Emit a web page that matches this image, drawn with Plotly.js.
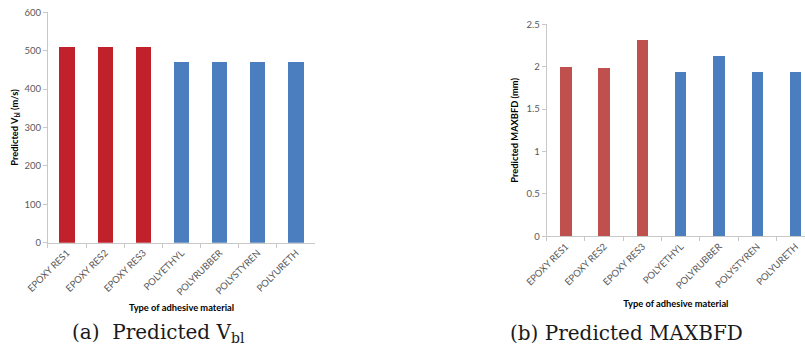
<!DOCTYPE html>
<html>
<head>
<meta charset="utf-8">
<script src="https://cdn.plot.ly/plotly-3.0.1.min.js"></script>
<style>html,body{margin:0;padding:0;background:#fff;}#chart{width:805px;height:355px;}</style>
</head>
<body>
<div id="chart"></div>
<script>
const categories = ["EPOXY RES1", "EPOXY RES2", "EPOXY RES3", "POLYETHYL", "POLYRUBBER", "POLYSTYREN", "POLYURETH"];
const vblValues = [510, 510, 510, 470, 470, 470, 470];
const maxbfdValues = [2.00, 1.99, 2.31, 1.94, 2.13, 1.94, 1.94];
const vblTicks = [0, 100, 200, 300, 400, 500, 600];
const maxbfdTicks = [0, 0.5, 1, 1.5, 2, 2.5];

const isEpoxy = c => c.indexOf("EPOXY") === 0;
const leftColors = categories.map(c => isEpoxy(c) ? "#C0212B" : "#4A7EBE");
const rightColors = categories.map(c => isEpoxy(c) ? "#C0504D" : "#4A7EBE");

const tickFont = {family: "Lato, 'Open Sans', sans-serif", size: 9.5, color: "#595959"};
const titleFont = {family: "Lato, 'Open Sans', sans-serif", size: 9.3, color: "#000", weight: "bold"};
const captionFont = {family: "'DejaVu Serif', 'Liberation Serif', serif", size: 20, color: "#1a1a1a"};
const axisLine = "#C8C8C8";

const traces = [
  {type: "bar", x: categories, y: vblValues, xaxis: "x", yaxis: "y", width: 0.4,
   marker: {color: leftColors}, hoverinfo: "x+y"},
  {type: "bar", x: categories, y: maxbfdValues, xaxis: "x2", yaxis: "y2", width: 0.3,
   marker: {color: rightColors}, hoverinfo: "x+y"}
];

const xCommon = {
  type: "category", showline: true, linecolor: axisLine, linewidth: 1,
  ticks: "outside", tickson: "boundaries", ticklen: 4, tickcolor: axisLine,
  tickangle: -45, tickfont: tickFont, showgrid: false, zeroline: false, automargin: false
};
const yCommon = {
  showline: true, linecolor: axisLine, linewidth: 1, ticks: "outside", ticklen: 4,
  tickcolor: axisLine, tickfont: tickFont, showgrid: false, zeroline: false, automargin: false
};

const layout = {
  width: 805, height: 355, margin: {l: 0, r: 0, t: 0, b: 0},
  paper_bgcolor: "#fff", plot_bgcolor: "#fff", showlegend: false, bargap: 0,
  xaxis: Object.assign({}, xCommon, {domain: [0.0596, 0.3913], anchor: "y", range: [-0.5, 6.5],
    title: {text: "Type of adhesive material", font: titleFont, standoff: 8}}),
  yaxis: Object.assign({}, yCommon, {domain: [0.3163, 0.9654], anchor: "x", range: [0, 600],
    tickvals: vblTicks, ticktext: vblTicks.map(String),
    title: {text: "Predicted V<sub>bl</sub> (m/s)", font: titleFont, standoff: 4}}),
  xaxis2: Object.assign({}, xCommon, {domain: [0.6791, 1.0], anchor: "y2", range: [-0.5, 6.245],
    title: {text: "Type of adhesive material", font: titleFont, standoff: 10}}),
  yaxis2: Object.assign({}, yCommon, {domain: [0.3344, 0.9315], anchor: "x2", range: [0, 2.5],
    tickvals: maxbfdTicks, ticktext: maxbfdTicks.map(String),
    title: {text: "Predicted MAXBFD (mm)", font: titleFont, standoff: 6}}),
  annotations: [
    {text: "(a)  Predicted V<sub>bl</sub>", xref: "paper", yref: "paper", x: 158/805, y: 1 - 333/355,
     xanchor: "center", yanchor: "middle", showarrow: false, font: captionFont},
    {text: "(b) Predicted MAXBFD", xref: "paper", yref: "paper", x: 626/805, y: 1 - 333/355,
     xanchor: "center", yanchor: "middle", showarrow: false, font: captionFont}
  ]
};

Plotly.newPlot("chart", traces, layout, {displayModeBar: false, staticPlot: true});
</script>
</body>
</html>
